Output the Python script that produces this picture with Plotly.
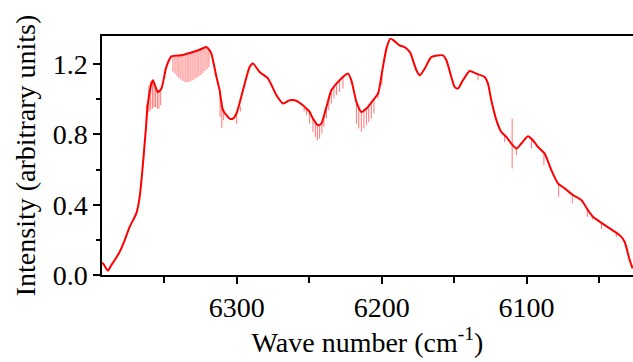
import plotly.graph_objects as go

# Envelope of the spectrum (wave number in cm^-1, intensity in arbitrary units)
env_x = [6393.0, 6391.8, 6388.9, 6386.5, 6384.2, 6380.8, 6377.3, 6373.9, 6369.3, 6367.0,
         6364.7, 6362.8, 6361.3, 6358.9, 6357.8, 6356.5, 6354.4, 6352.0, 6348.6, 6345.1,
         6338.2, 6332.5, 6325.6, 6321.0, 6318.7, 6317.5, 6314.0, 6311.8, 6309.5, 6304.9,
         6302.6, 6300.2, 6295.7, 6291.1, 6288.8, 6284.2, 6278.4, 6272.6, 6268.1, 6263.5,
         6260.0, 6254.3, 6251.9, 6249.7, 6247.4, 6243.9, 6241.6, 6238.1, 6234.7, 6231.2,
         6226.7, 6223.2, 6220.9, 6217.4, 6214.0, 6210.5, 6206.0, 6202.5, 6199.5, 6196.7,
         6194.0, 6191.7, 6187.6, 6184.1, 6180.6, 6179.5, 6176.0, 6173.7, 6170.3, 6165.7,
         6157.7, 6155.3, 6151.9, 6149.6, 6147.3, 6143.9, 6139.2, 6134.6, 6128.9, 6126.6,
         6124.3, 6120.8, 6117.4, 6113.9, 6110.5, 6107.0, 6103.6, 6099.0, 6095.6, 6092.1,
         6087.5, 6082.9, 6078.3, 6073.7, 6067.9, 6062.1, 6057.6, 6054.1, 6048.3, 6042.6,
         6035.7, 6032.3, 6028.8, 6026.8]
env_y = [0.070, 0.060, 0.025, 0.057, 0.085, 0.132, 0.199, 0.274, 0.351, 0.445,
         0.635, 0.824, 0.976, 1.089, 1.108, 1.080, 1.041, 1.061, 1.184, 1.244,
         1.250, 1.263, 1.282, 1.297, 1.278, 1.260, 1.127, 1.051, 0.938, 0.890,
         0.890, 0.919, 1.051, 1.184, 1.203, 1.155, 1.118, 1.023, 0.976, 0.994,
         0.994, 0.966, 0.947, 0.928, 0.890, 0.852, 0.862, 0.956, 1.051, 1.089,
         1.127, 1.146, 1.108, 0.985, 0.928, 0.947, 0.994, 1.032, 1.165, 1.288,
         1.345, 1.335, 1.307, 1.297, 1.270, 1.250, 1.165, 1.136, 1.174, 1.240,
         1.250, 1.222, 1.127, 1.070, 1.061, 1.108, 1.161, 1.146, 1.127, 1.089,
         0.994, 0.881, 0.814, 0.786, 0.748, 0.720, 0.748, 0.790, 0.767, 0.729,
         0.691, 0.597, 0.521, 0.493, 0.455, 0.426, 0.369, 0.331, 0.297, 0.265,
         0.227, 0.189, 0.085, 0.038]

# Sharp absorption lines: position, top and bottom of each line
dip_x = [6362.4, 6360.6, 6359.4, 6358.2, 6357.1, 6356.0, 6354.8, 6353.7, 6352.5,
         6344.0, 6342.6, 6341.2, 6339.9, 6338.5, 6337.1, 6335.7, 6334.3, 6333.0, 6331.6,
         6330.2, 6328.8, 6327.4, 6326.1, 6324.7, 6323.3, 6321.9, 6320.5, 6319.2,
         6311.5, 6310.3, 6309.0, 6300.0, 6297.5,
         6253.5, 6251.9, 6249.7, 6247.4, 6245.7, 6244.3, 6242.8, 6241.2, 6239.8, 6238.1,
         6236.5, 6234.7, 6232.9, 6231.2, 6229.0, 6226.7,
         6217.4, 6215.8, 6214.0, 6212.2, 6210.5, 6208.9, 6207.1, 6205.3, 6202.5, 6199.8,
         6133.5, 6115.1, 6109.9, 6107.0, 6096.6, 6088.0, 6077.8, 6068.4, 6058.0, 6054.6,
         6048.3, 6038.0]
dip_top = [0.97, 1.08, 1.10, 1.10, 1.09, 1.07, 1.05, 1.05, 1.06,
           1.24, 1.245, 1.25, 1.25, 1.25, 1.255, 1.255, 1.26, 1.26, 1.265,
           1.27, 1.27, 1.275, 1.28, 1.285, 1.29, 1.295, 1.29, 1.28,
           1.04, 0.99, 0.95, 0.91, 0.96,
           0.96, 0.95, 0.93, 0.89, 0.87, 0.855, 0.855, 0.86, 0.90, 0.95,
           1.00, 1.05, 1.07, 1.09, 1.11, 1.13,
           0.985, 0.95, 0.93, 0.93, 0.945, 0.96, 0.98, 1.00, 1.03, 1.15,
           1.14, 0.80, 0.890, 0.72, 0.77, 0.69, 0.52, 0.46, 0.37, 0.34,
           0.30, 0.235]
dip_bot = [0.824, 0.928, 0.938, 0.947, 0.956, 0.956, 0.947, 0.947, 0.966,
           1.155, 1.146, 1.131, 1.121, 1.112, 1.104, 1.098, 1.097, 1.098, 1.104,
           1.108, 1.116, 1.123, 1.131, 1.138, 1.150, 1.161, 1.172, 1.184,
           0.90, 0.835, 0.88, 0.86, 0.93,
           0.93, 0.909, 0.862, 0.814, 0.786, 0.767, 0.777, 0.805, 0.843, 0.890,
           0.938, 0.976, 1.004, 1.023, 1.041, 1.061,
           0.862, 0.834, 0.814, 0.834, 0.852, 0.871, 0.890, 0.919, 1.004, 1.080,
           1.108, 0.757, 0.606, 0.682, 0.720, 0.625, 0.445, 0.407, 0.331, 0.313,
           0.260, 0.216]

x_ticks = [6300, 6200, 6100]
y_ticks = [0.0, 0.4, 0.8, 1.2]
y_tick_labels = ["0.0", "0.4", "0.8", "1.2"]

seg_x, seg_y = [], []
for xv, t, b in zip(dip_x, dip_top, dip_bot):
    seg_x += [xv, xv, None]
    seg_y += [t, b, None]

fig = go.Figure()
fig.add_trace(go.Scatter(x=seg_x, y=seg_y, mode="lines",
                         line=dict(color="rgba(255,0,0,0.6)", width=0.9),
                         hoverinfo="skip", showlegend=False))
fig.add_trace(go.Scatter(x=env_x, y=env_y, mode="lines",
                         line=dict(color="#ff0000", width=2, shape="spline", smoothing=0.6),
                         showlegend=False))

font_family = "Liberation Serif"
fig.update_layout(
    width=633, height=362,
    margin=dict(l=102, r=0, t=36, b=87, autoexpand=False),
    paper_bgcolor="white", plot_bgcolor="white",
    font=dict(family=font_family, size=28, color="black"),
    xaxis=dict(
        range=[6393, 6026.5], tickvals=x_ticks, ticktext=[str(v) for v in x_ticks],
        ticks="outside", ticklen=7, tickwidth=1.5, tickcolor="black",
        minor=dict(dtick=50, tick0=6300, ticks="outside", ticklen=6, tickwidth=1.5, tickcolor="black"),
        showline=True, linecolor="black", linewidth=1.5, mirror=True,
        showgrid=False, zeroline=False, automargin=False,
        tickfont=dict(family=font_family, size=28),
        title=dict(text="Wave number (cm<sup>-1</sup>)", font=dict(family=font_family, size=28), standoff=4),
    ),
    yaxis=dict(
        range=[0, 1.36], tickvals=y_ticks, ticktext=y_tick_labels,
        ticks="outside", ticklen=7, tickwidth=1.5, tickcolor="black",
        minor=dict(dtick=0.2, tick0=0, ticks="outside", ticklen=4, tickwidth=1.5, tickcolor="black"),
        showline=True, linecolor="black", linewidth=1.5, mirror=False,
        showgrid=False, zeroline=False, automargin=False,
        tickfont=dict(family=font_family, size=28),
        title=dict(text="Intensity (arbitrary units)", font=dict(family=font_family, size=28), standoff=9),
    ),
)

fig.write_html("out.html", config={"displayModeBar": False},
               post_script="document.body.style.margin='0';")
